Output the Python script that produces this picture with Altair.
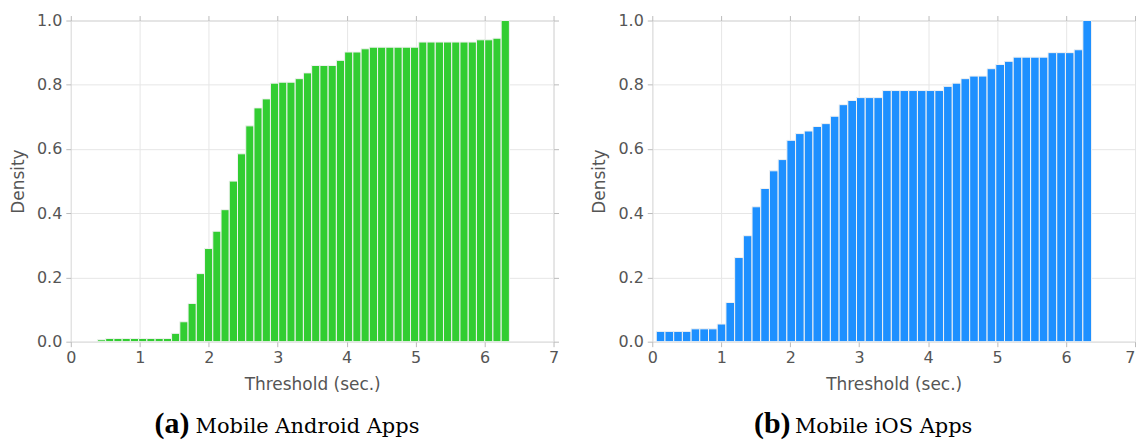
import altair as alt
import pandas as pd

# ---- data (cumulative density histograms, 50 bins) ----
android_range = [0.386, 6.36]
android_heights = [
    0.006, 0.010, 0.010, 0.010, 0.010, 0.010, 0.010, 0.010, 0.010, 0.026,
    0.062, 0.119, 0.212, 0.290, 0.344, 0.411, 0.500, 0.585, 0.672, 0.728,
    0.756, 0.805, 0.808, 0.808, 0.819, 0.837, 0.860, 0.860, 0.860, 0.876,
    0.902, 0.902, 0.912, 0.917, 0.917, 0.917, 0.917, 0.917, 0.917, 0.933,
    0.933, 0.933, 0.933, 0.933, 0.933, 0.933, 0.940, 0.940, 0.945, 1.000,
]
ios_range = [0.058, 6.37]
ios_heights = [
    0.032, 0.032, 0.032, 0.032, 0.040, 0.040, 0.040, 0.055, 0.122, 0.262,
    0.330, 0.420, 0.477, 0.532, 0.567, 0.627, 0.648, 0.656, 0.670, 0.679,
    0.702, 0.738, 0.751, 0.760, 0.760, 0.760, 0.782, 0.782, 0.782, 0.782,
    0.782, 0.782, 0.782, 0.795, 0.805, 0.819, 0.827, 0.827, 0.850, 0.863,
    0.873, 0.886, 0.886, 0.886, 0.886, 0.900, 0.900, 0.900, 0.909, 1.000,
]
x_ticks = [0, 1, 2, 3, 4, 5, 6, 7]
y_ticks = [0.0, 0.2, 0.4, 0.6, 0.8, 1.0]
x_title = "Threshold (sec.)"
y_title = "Density"
caption_tags = ["(a)", "(b)"]
caption_texts = ["Mobile Android Apps", "Mobile iOS Apps"]
bar_colors = ["#32cd32", "#1e90ff"]

W, H = 484, 322
GRAY = "#555555"
CAP_Y = H + 92  # caption baseline below the plot


def bins_frame(rng, heights):
    n = len(heights)
    w = (rng[1] - rng[0]) / n
    return pd.DataFrame({
        "x0": [rng[0] + i * w for i in range(n)],
        "x1": [rng[0] + (i + 1) * w for i in range(n)],
        "density": heights,
    })


def panel(df, color, tag, text, tag_x, text_x, last=False):
    xs = alt.Scale(domain=[0, 7], nice=False, zero=False)
    ys = alt.Scale(domain=[0, 1], nice=False)
    x_axis_kw = dict(values=x_ticks, format="d", title=x_title,
                     labelFlush=False, titlePadding=11)
    if last:
        x_axis_kw["labelAlign"] = alt.condition(
            "datum.value == 7", alt.value("right"), alt.value("center"))
    bars = alt.Chart(df).mark_bar(
        color=color, stroke="#f2f2f2", strokeWidth=1
    ).encode(
        x=alt.X("x0:Q", scale=xs, axis=alt.Axis(**x_axis_kw)),
        x2="x1:Q",
        y=alt.Y("density:Q", scale=ys, axis=alt.Axis(
            values=y_ticks, format=".1f", title=y_title, titlePadding=9)),
        y2=alt.datum(0),
    )
    frame = alt.Chart(df).mark_bar(opacity=0).encode(
        x=alt.X("x0:Q", scale=xs, axis=alt.Axis(
            orient="top", values=x_ticks, labels=False, grid=False, title=None)),
        x2="x1:Q",
        y=alt.Y("density:Q", scale=ys, axis=alt.Axis(
            orient="right", values=y_ticks, labels=False, grid=False,
            title=None, ticks=not last)),
        y2=alt.datum(0),
    )
    tag_mark = alt.Chart(alt.Data(values=[{"t": tag}])).mark_text(
        align="left", baseline="alphabetic", font="Liberation Serif",
        fontWeight="bold", fontSize=30, color="black",
    ).encode(x=alt.value(tag_x), y=alt.value(CAP_Y), text="t:N")
    text_mark = alt.Chart(alt.Data(values=[{"t": text}])).mark_text(
        align="left", baseline="alphabetic", font="DejaVu Serif",
        fontSize=21, color="black",
    ).encode(x=alt.value(text_x), y=alt.value(CAP_Y), text="t:N")
    return alt.layer(bars, frame, tag_mark, text_mark).resolve_axis(
        x="independent", y="independent"
    ).properties(width=W, height=H)


left = panel(bins_frame(android_range, android_heights), bar_colors[0],
             caption_tags[0], caption_texts[0], 84, 125)
right = panel(bins_frame(ios_range, ios_heights), bar_colors[1],
              caption_tags[1], caption_texts[1], 102, 143, last=True)

chart = alt.hconcat(left, right, spacing=31).properties(
    padding={"left": 9, "top": 11, "right": 0, "bottom": 0},
    background="white",
).configure_view(
    stroke="#cccccc", strokeWidth=1
).configure_axis(
    domain=False,
    grid=True, gridColor="#e6e6e6", gridWidth=1,
    tickColor="#bbbbbb", tickSize=5, tickWidth=1,
    labelFont="DejaVu Sans", labelFontSize=16, labelColor=GRAY, labelPadding=3,
    titleFont="DejaVu Sans", titleFontSize=17, titleFontWeight="normal",
    titleColor=GRAY,
).configure_axisY(labelPadding=4)

chart.save("out.html", embed_options={"renderer": "svg", "actions": False})
